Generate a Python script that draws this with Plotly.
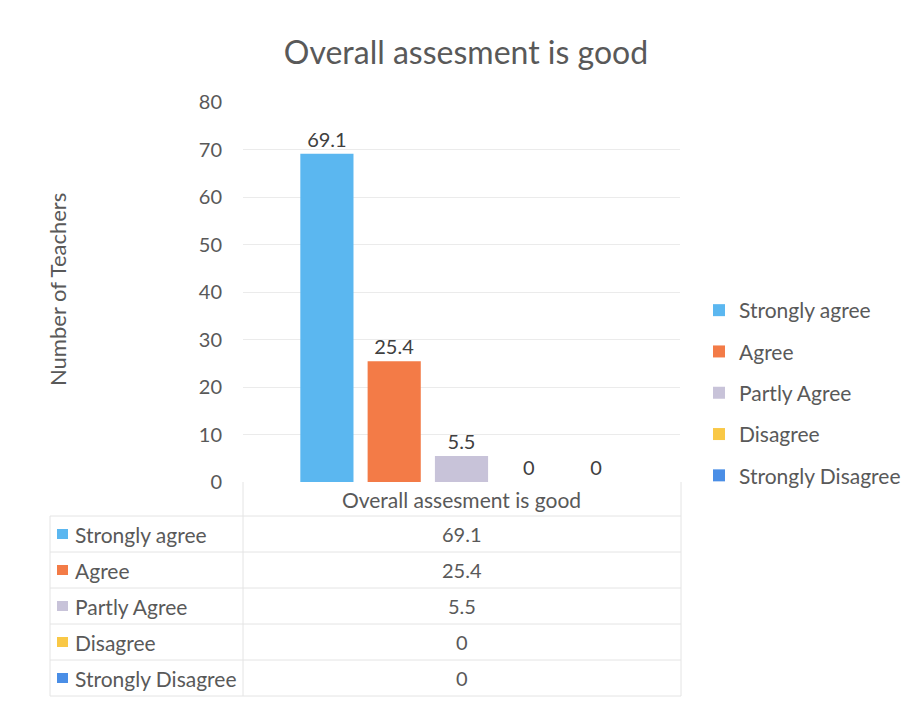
import plotly.graph_objects as go

title = "Overall assesment is good"
category = "Overall assesment is good"
series_names = ["Strongly agree", "Agree", "Partly Agree", "Disagree", "Strongly Disagree"]
series_values = [69.1, 25.4, 5.5, 0, 0]
series_colors = ["#5BB7F0", "#F37B47", "#C8C3D9", "#F9C846", "#4A8EE6"]
y_ticks = [0, 10, 20, 30, 40, 50, 60, 70, 80]
y_title = "Number of Teachers"

# page offset (body margin) in the browser
OFF = 8
W, H = 912, 702
# plot area in screen pixels: x 243..680, y 102..482
L = 243 - OFF
T = 102 - OFF
R = W - (680 - OFF)
B = H - (482 - OFF)
PW, PH = W - L - R, H - T - B
FONT = "Lato"
TXT = "#595959"


def px(xs):
    return (xs - OFF - L) / PW


def py(ys):
    return (H - B - (ys - OFF)) / PH


fig = go.Figure()
for i, (name, val, col) in enumerate(zip(series_names, series_values, series_colors)):
    fig.add_trace(go.Bar(
        name=name, x=[category], y=[val], marker_color=col, marker_line_width=0,
        text=[f"{val:g}"], textposition="outside", cliponaxis=False,
        textfont=dict(size=20, color="#404040", family=FONT),
        legendgroup=f"g{i}",
    ))

shapes = []
line_col = "#E4E4E4"
row_top = 516
row_h = 36
n = len(series_names)
for k in range(n + 1):
    yy = row_top + k * row_h
    shapes.append(dict(type="line", xref="paper", yref="paper", x0=px(50), x1=px(681),
                       y0=py(yy), y1=py(yy), line=dict(color=line_col, width=1)))
shapes.append(dict(type="line", xref="paper", yref="paper", x0=px(50), x1=px(50),
                   y0=py(row_top), y1=py(row_top + n * row_h), line=dict(color=line_col, width=1)))
shapes.append(dict(type="line", xref="paper", yref="paper", x0=0, x1=0,
                   y0=0, y1=py(row_top + n * row_h), line=dict(color=line_col, width=1)))
shapes.append(dict(type="line", xref="paper", yref="paper", x0=px(681), x1=px(681),
                   y0=0, y1=py(row_top + n * row_h), line=dict(color=line_col, width=1)))

annotations = []
for k, (name, val, col) in enumerate(zip(series_names, series_values, series_colors)):
    yc = row_top + k * row_h + row_h / 2
    shapes.append(dict(type="rect", xref="paper", yref="paper", x0=px(57), x1=px(68),
                       y0=py(yc + 5), y1=py(yc - 5), fillcolor=col, line_width=0))
    annotations.append(dict(text=name, xref="paper", yref="paper", x=px(73), y=py(yc),
                            xanchor="left", yanchor="middle", showarrow=False,
                            font=dict(size=21, color=TXT, family=FONT)))
    annotations.append(dict(text=f"{val:g}", xref="paper", yref="paper", x=0.5, y=py(yc),
                            xanchor="center", yanchor="middle", showarrow=False,
                            font=dict(size=20, color=TXT, family=FONT)))

annotations.append(dict(text=y_title, xref="paper", yref="paper", x=px(57), y=py(290),
                        xanchor="center", yanchor="middle", textangle=-90, showarrow=False,
                        font=dict(size=22, color=TXT, family=FONT)))

fig.update_layout(
    width=W, height=H,
    margin=dict(l=L, r=R, t=T, b=B, autoexpand=False),
    paper_bgcolor="white", plot_bgcolor="white",
    title=dict(text=title, x=(466 - OFF) / W, xanchor="center", y=1 - (53 - OFF) / H, yanchor="middle",
               font=dict(size=32, color=TXT, family=FONT)),
    barmode="group", bargap=0.23, bargroupgap=0.21,
    font=dict(family=FONT, color=TXT),
    showlegend=True,
    legend=dict(x=px(699), xanchor="left", y=py(393), yanchor="middle",
                font=dict(size=21, color=TXT, family=FONT), tracegroupgap=11,
                itemwidth=30, bgcolor="rgba(0,0,0,0)"),
    shapes=shapes, annotations=annotations,
)
fig.update_xaxes(showline=False, showgrid=False, ticks="", tickfont=dict(size=21, color=TXT, family=FONT),
                 ticklabelstandoff=4)
fig.update_yaxes(range=[0, 80], tickvals=y_ticks, showgrid=True, gridcolor="#EBEBEB", gridwidth=1,
                 zeroline=False, showline=False, ticks="", tickfont=dict(size=20, color=TXT, family=FONT),
                 ticklabelstandoff=20)

fig.write_html("out.html")
